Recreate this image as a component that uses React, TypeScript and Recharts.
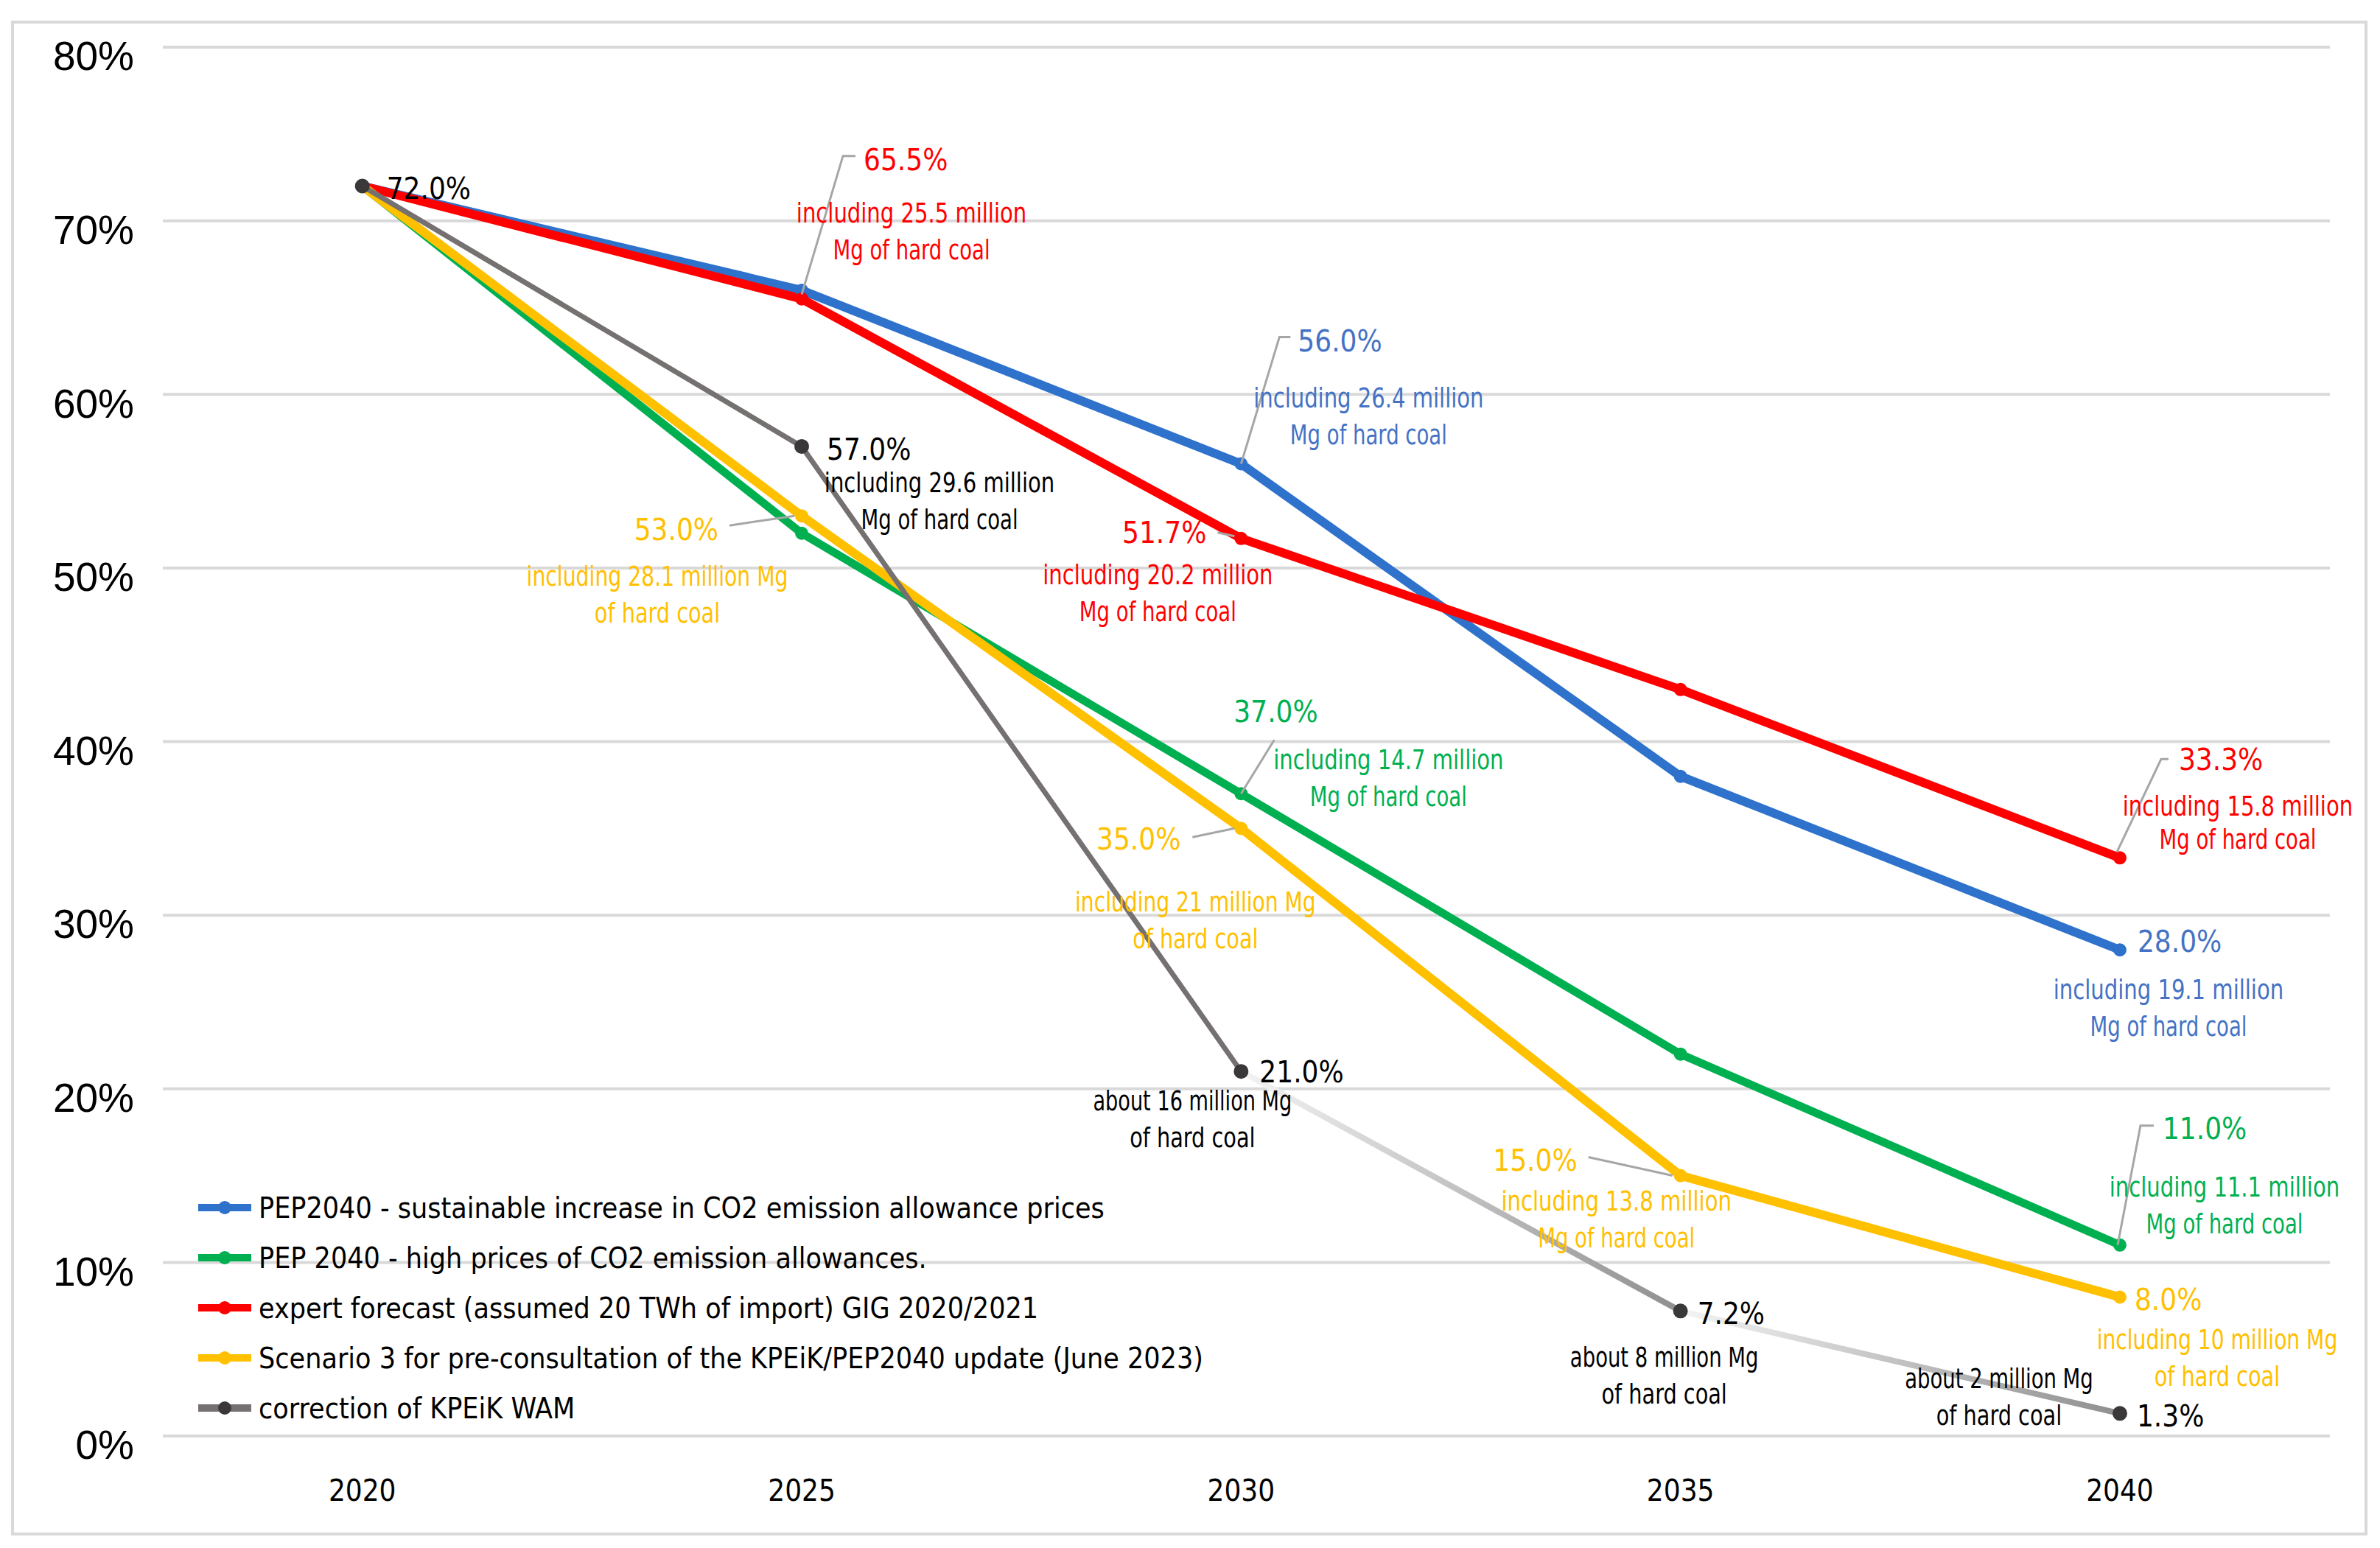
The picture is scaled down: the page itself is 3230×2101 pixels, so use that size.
import React from "react";
import { CartesianGrid, LabelList, Legend, Line, LineChart, XAxis, YAxis } from "recharts";

// values, share of hard coal (%)
const years = [2020, 2025, 2030, 2035, 2040];
const yTicks = [0, 10, 20, 30, 40, 50, 60, 70, 80];

const pepSustainable = [72, 66, 56, 38, 28];
const pepHigh = [72, 52, 37, 22, 11];
const expertGig = [72, 65.5, 51.7, 43, 33.3];
const scenario3 = [72, 53, 35, 15, 8];
const kpeikWam = [72, 57, 21, 7.2, 1.3];

type Note = string[] | null;

const pepSustainableNotes: Note[] = [null, null, ["including 26.4 million", "Mg of hard coal"], null, ["including 19.1 million", "Mg of hard coal"]];
const pepHighNotes: Note[] = [null, null, ["including 14.7 million", "Mg of hard coal"], null, ["including 11.1 million", "Mg of hard coal"]];
const expertGigNotes: Note[] = [null, ["including 25.5 million", "Mg of hard coal"], ["including 20.2 million", "Mg of hard coal"], null, ["including 15.8 million", "Mg of hard coal"]];
const scenario3Notes: Note[] = [null, ["including 28.1 million Mg", "of hard coal"], ["including 21 million Mg", "of hard coal"], ["including 13.8 million", "Mg of hard coal"], ["including 10 million Mg", "of hard coal"]];
const kpeikWamNotes: Note[] = [[], ["including 29.6 million", "Mg of hard coal"], ["about 16 million Mg", "of hard coal"], ["about 8 million Mg", "of hard coal"], ["about 2 million Mg", "of hard coal"]];

const seriesNames = [
  "PEP2040 - sustainable increase in CO2 emission allowance prices",
  "PEP 2040 - high prices of CO2 emission allowances.",
  "expert forecast (assumed 20 TWh of import) GIG 2020/2021",
  "Scenario 3 for pre-consultation of the KPEiK/PEP2040 update (June 2023)",
  "correction of KPEiK WAM",
];

const NARROW = '"Liberation Sans Narrow", "DejaVu Sans Condensed", "Roboto Condensed", "Liberation Sans", sans-serif';
const WIDE = '"Liberation Sans", Arial, sans-serif';

const BLUE = "#2F72CC";
const BLUE_TXT = "#4472C4";
const GREEN = "#00B050";
const RED = "#FF0000";
const YELLOW = "#FFC000";
const GRAY = "#767171";
const GRAY_DOT = "#3A3838";
const GRID = "#D9D9D9";

// label placement, offsets from the point in px
type Lay = {
  dx: number;
  dy: number;
  anchor: "start" | "end";
  sx?: number;
  sy?: number;
  gap?: number;
  leader?: [number, number][];
};

const blueLay: (Lay | null)[] = [
  null,
  null,
  { dx: 77, dy: -167, anchor: "start", sx: 173, sy: -90, leader: [[0, 0], [52, -172], [67, -172]] },
  null,
  { dx: 24, dy: -11, anchor: "start", sx: 66, sy: 53 },
];
const greenLay: (Lay | null)[] = [
  null,
  null,
  { dx: -10, dy: -111, anchor: "start", sx: 200, sy: -46, leader: [[0, 0], [45, -73]] },
  null,
  { dx: 58, dy: -158, anchor: "start", sx: 142, sy: -79, leader: [[-3, 0], [28, -162], [46, -162]] },
];
const redLay: (Lay | null)[] = [
  null,
  { dx: 84, dy: -189, anchor: "start", sx: 149, sy: -117, leader: [[0, -6], [56, -194], [73, -194]] },
  { dx: -47, dy: -8, anchor: "end", sx: -113, sy: 49, leader: [[-9, -3], [-32, -8]] },
  null,
  { dx: 80, dy: -133, anchor: "start", sx: 160, sy: -71, gap: 45, leader: [[-4, -8], [56, -134], [66, -134]] },
];
const yellowLay: (Lay | null)[] = [
  null,
  { dx: -113, dy: 19, anchor: "end", sx: -196, sy: 82, leader: [[-10, 0], [-98, 13]] },
  { dx: -82, dy: 15, anchor: "end", sx: -62, sy: 99, leader: [[-9, 0], [-66, 12]] },
  { dx: -140, dy: -21, anchor: "end", sx: -87, sy: 34, leader: [[-11, 0], [-125, -25]] },
  { dx: 20, dy: 3, anchor: "start", sx: 132, sy: 57 },
];
const grayLay: (Lay | null)[] = [
  { dx: 33, dy: 3, anchor: "start" },
  { dx: 34, dy: 4, anchor: "start", sx: 187, sy: 49 },
  { dx: 25, dy: 1, anchor: "start", sx: -66, sy: 40 },
  { dx: 23, dy: 4, anchor: "start", sx: -22, sy: 62 },
  { dx: 23, dy: 4, anchor: "start", sx: -164, sy: -48 },
];

const chartData = years.map((year, i) => ({
  year,
  pepSustainable: pepSustainable[i],
  pepHigh: pepHigh[i],
  expertGig: expertGig[i],
  scenario3: scenario3[i],
  wam: kpeikWam[i],
  wamSolid: i <= 2 ? kpeikWam[i] : null,
  wamFadeA: i === 2 || i === 3 ? kpeikWam[i] : null,
  wamFadeB: i >= 3 ? kpeikWam[i] : null,
}));

// the note lines in the source are a squeezed face, so they get a fixed width per character
const NOTE_CHAR_W = 14.2;

const makeLabel = (lays: (Lay | null)[], notes: Note[], color: string) => (props: any) => {
  const { x, y, index, value } = props;
  const lay = lays[index];
  if (!lay || value == null) return null;
  const lines = notes[index] || [];
  return (
    <g>
      {lay.leader && (
        <polyline
          points={lay.leader.map(([a, b]) => `${x + a},${y + b}`).join(" ")}
          fill="none"
          stroke="#A6A6A6"
          strokeWidth={3}
        />
      )}
      <text x={x + lay.dx} y={y + lay.dy} dy="0.35em" textAnchor={lay.anchor} fill={color} fontSize={40} fontFamily={NARROW}>
        {Number(value).toFixed(1)}%
      </text>
      {lines.map((t, i) => (
        <text
          key={i}
          x={x + (lay.sx ?? 0)}
          y={y + (lay.sy ?? 0) + i * (lay.gap ?? 50)}
          dy="0.35em"
          textAnchor="middle"
          fill={color}
          fontSize={38}
          fontFamily={NARROW}
          textLength={t.length * NOTE_CHAR_W}
          lengthAdjust="spacingAndGlyphs"
        >
          {t}
        </text>
      ))}
    </g>
  );
};

const legendColors = [
  [BLUE, BLUE],
  [GREEN, GREEN],
  [RED, RED],
  [YELLOW, YELLOW],
  [GRAY, GRAY_DOT],
];

const renderLegend = () => (
  <div style={{ fontFamily: NARROW, fontSize: 39, color: "#000" }}>
    {seriesNames.map((name, i) => (
      <div key={name} style={{ display: "flex", alignItems: "center", height: 68, whiteSpace: "nowrap" }}>
        <svg width={82} height={68}>
          <line x1={0} x2={72} y1={34} y2={34} stroke={legendColors[i][0]} strokeWidth={10} />
          <circle cx={36} cy={34} r={9} fill={legendColors[i][1]} />
        </svg>
        <span>{name}</span>
      </div>
    ))}
  </div>
);

const YTick = (props: any) => {
  const { x, y, payload } = props;
  return (
    <text x={x} y={y + 12} dy="0.35em" textAnchor="end" fontSize={55} fontFamily={WIDE} fill="#000">
      {payload.value}%
    </text>
  );
};

const XTick = (props: any) => {
  const { x, y, payload } = props;
  return (
    <text x={x} y={y} dy="0.35em" textAnchor="middle" fontSize={40} fontFamily={NARROW} fill="#000">
      {payload.value}
    </text>
  );
};

const dot = (color: string, r = 8) => ({ r, fill: color, stroke: color, strokeWidth: 2 });

export default function App() {
  return (
    <div style={{ position: "absolute", left: 0, top: 0, width: 3230, height: 2101, background: "#fff" }}>
      <div
        style={{
          position: "absolute",
          left: 15,
          top: 28,
          width: 3190,
          height: 2048,
          border: `4px solid ${GRID}`,
        }}
      />
      <div style={{ position: "absolute", left: 0, top: 0 }}>
        <LineChart width={3230} height={2101} data={chartData} margin={{ top: 64, right: 68, left: 21, bottom: 52 }}>
          <defs>
            <linearGradient id="wamFade" x1="0" y1="0" x2="1" y2="0">
              <stop offset="0%" stopColor="#F4F4F4" />
              <stop offset="100%" stopColor="#8F8F8F" />
            </linearGradient>
          </defs>
          <CartesianGrid vertical={false} stroke={GRID} strokeWidth={4} />
          <XAxis
            dataKey="year"
            type="number"
            domain={[2017.73, 2042.39]}
            ticks={years}
            axisLine={false}
            tickLine={false}
            tickMargin={68}
            height={100}
            tick={<XTick />}
            allowDataOverflow
          />
          <YAxis
            domain={[0, 80]}
            ticks={yTicks}
            axisLine={false}
            tickLine={false}
            tickMargin={33}
            width={200}
            tick={<YTick />}
          />
          <Legend
            layout="vertical"
            align="center"
            verticalAlign="middle"
            wrapperStyle={{ left: 269, top: 1605, width: 1700 }}
            content={renderLegend}
          />
          <Line dataKey="pepSustainable" stroke={BLUE} strokeWidth={12} dot={dot(BLUE)} isAnimationActive={false}>
            <LabelList content={makeLabel(blueLay, pepSustainableNotes, BLUE_TXT)} />
          </Line>
          <Line dataKey="pepHigh" stroke={GREEN} strokeWidth={11} dot={dot(GREEN)} isAnimationActive={false}>
            <LabelList content={makeLabel(greenLay, pepHighNotes, GREEN)} />
          </Line>
          <Line dataKey="expertGig" stroke={RED} strokeWidth={12} dot={dot(RED)} isAnimationActive={false}>
            <LabelList content={makeLabel(redLay, expertGigNotes, RED)} />
          </Line>
          <Line dataKey="scenario3" stroke={YELLOW} strokeWidth={12} dot={dot(YELLOW)} isAnimationActive={false}>
            <LabelList content={makeLabel(yellowLay, scenario3Notes, YELLOW)} />
          </Line>
          <Line dataKey="wamSolid" stroke={GRAY} strokeWidth={7} dot={false} legendType="none" isAnimationActive={false} />
          <Line dataKey="wamFadeA" stroke="url(#wamFade)" strokeWidth={8} dot={false} legendType="none" isAnimationActive={false} />
          <Line dataKey="wamFadeB" stroke="url(#wamFade)" strokeWidth={8} dot={false} legendType="none" isAnimationActive={false} />
          <Line dataKey="wam" stroke="none" dot={dot(GRAY_DOT, 9)} legendType="none" isAnimationActive={false}>
            <LabelList content={makeLabel(grayLay, kpeikWamNotes, "#000")} />
          </Line>
        </LineChart>
      </div>
    </div>
  );
}
